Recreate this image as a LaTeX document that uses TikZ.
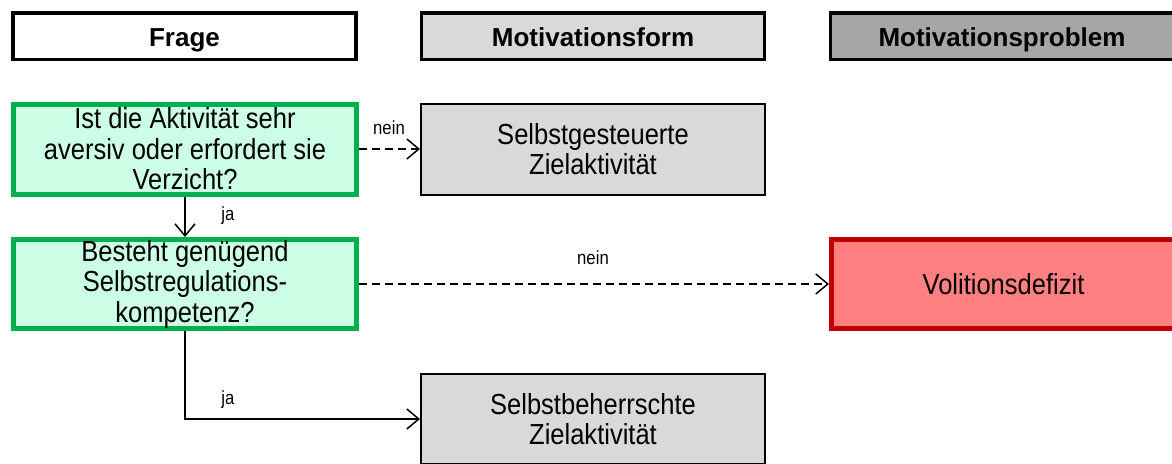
\documentclass[tikz,border=0pt]{standalone}
\usepackage{fontspec}
\setmainfont{Liberation Sans}[FakeStretch=0.88]
\newfontfamily\hdfont{Liberation Sans}
\usetikzlibrary{arrows.meta}
\definecolor{gborder}{HTML}{00B050}
\definecolor{gfill}{HTML}{CCFFE5}
\definecolor{rborder}{HTML}{C00000}
\definecolor{rfill}{HTML}{FF8080}
\definecolor{lgrey}{HTML}{D9D9D9}
\definecolor{dgrey}{HTML}{A6A6A6}
\begin{document}
\begin{tikzpicture}[x=1pt,y=-1pt,
  header/.style={draw=black, line width=3.5pt, minimum width=343pt, minimum height=46.5pt,
    inner sep=0pt, text height=22pt, text depth=2pt, font=\hdfont\bfseries\fontsize{26}{30}\selectfont},
  box/.style={rectangle, inner sep=0pt, align=center, minimum width=343pt, minimum height=90pt,
    font=\fontsize{29}{30.5}\selectfont},
  qbox/.style={box, draw=gborder, fill=gfill, line width=5pt},
  gbox/.style={box, draw=black, fill=lgrey, line width=2pt},
  rbox/.style={box, draw=rborder, fill=rfill, line width=5pt},
  conn/.style={line width=1.5pt, -{Straight Barb[length=12pt, width=20pt, line width=1.5pt]}},
  dconn/.style={conn, dash pattern=on 8pt off 5pt},
  lbl/.style={inner sep=0pt, font=\fontsize{19}{19}\selectfont}
]
\useasboundingbox (0,0) rectangle (1172,463);
% headers
\node[header, fill=white] (hq) at (184.5,36) {Frage};
\node[header, fill=lgrey] (hf) at (593,36) {Motivationsform};
\node[header, fill=dgrey] (hp) at (1002,36) {Motivationsproblem};
% boxes
\node[qbox] (q1) at (185,149) {Ist die Aktivität sehr\\aversiv oder erfordert sie\\Verzicht?};
\node[gbox, minimum width=344pt, minimum height=91pt] (s1) at (593,149) {Selbstgesteuerte\\Zielaktivität};
\node[qbox, minimum height=89pt] (q2) at (185,284) {Besteht genügend\\Selbstregulations-\\kompetenz?};
\node[rbox, minimum width=344pt, minimum height=89pt] (r1) at (1003.5,284) {Volitionsdefizit};
\node[gbox, minimum width=344pt, minimum height=90pt] (s2) at (593,419) {Selbstbeherrschte\\Zielaktivität};
% connectors
\draw[dconn] (q1.east) -- (s1.west);
\node[lbl] (l1) at (389,128) {nein};
\draw[conn] (q1.south) -- (q2.north);
\node[lbl] (l2) at (228,216) {ja};
\draw[dconn] (q2.east) -- (r1.west);
\node[lbl] (l3) at (593,258) {nein};
\draw[conn] (q2.south) |- (s2.west);
\node[lbl] (l4) at (228,400) {ja};
\end{tikzpicture}
\end{document}
